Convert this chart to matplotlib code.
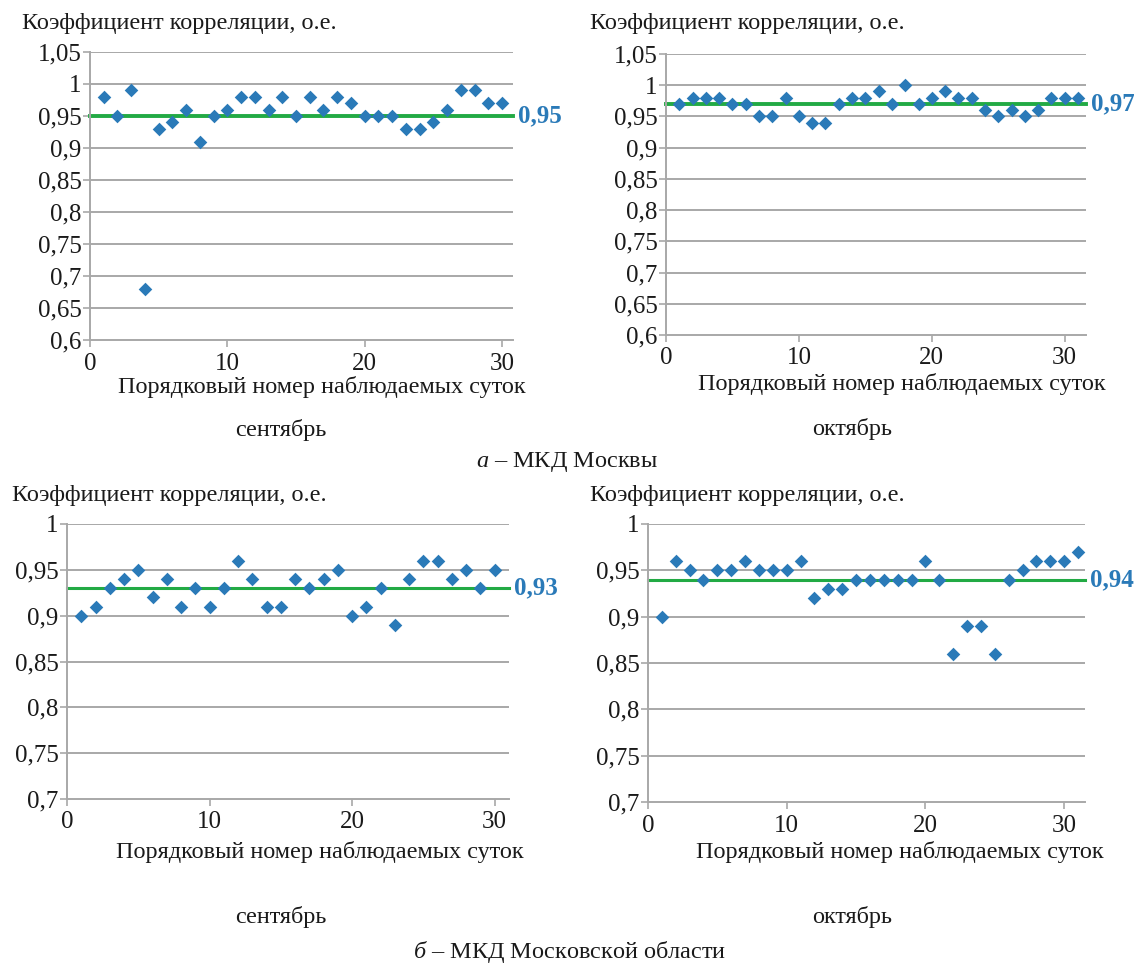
import numpy as np
import matplotlib
matplotlib.use('Agg')
import matplotlib.pyplot as plt

# Correlation coefficients by day
days_sep = list(range(1, 31))
days_oct = list(range(1, 32))

msk_sep = [0.98, 0.95, 0.99, 0.68, 0.93, 0.94, 0.96, 0.91, 0.95, 0.96,
           0.98, 0.98, 0.96, 0.98, 0.95, 0.98, 0.96, 0.98, 0.97, 0.95,
           0.95, 0.95, 0.93, 0.93, 0.94, 0.96, 0.99, 0.99, 0.97, 0.97]
msk_oct = [0.97, 0.98, 0.98, 0.98, 0.97, 0.97, 0.95, 0.95, 0.98, 0.95,
           0.94, 0.94, 0.97, 0.98, 0.98, 0.99, 0.97, 1.00, 0.97, 0.98,
           0.99, 0.98, 0.98, 0.96, 0.95, 0.96, 0.95, 0.96, 0.98, 0.98, 0.98]
obl_sep = [0.90, 0.91, 0.93, 0.94, 0.95, 0.92, 0.94, 0.91, 0.93, 0.91,
           0.93, 0.96, 0.94, 0.91, 0.91, 0.94, 0.93, 0.94, 0.95, 0.90,
           0.91, 0.93, 0.89, 0.94, 0.96, 0.96, 0.94, 0.95, 0.93, 0.95]
obl_oct = [0.90, 0.96, 0.95, 0.94, 0.95, 0.95, 0.96, 0.95, 0.95, 0.95,
           0.96, 0.92, 0.93, 0.93, 0.94, 0.94, 0.94, 0.94, 0.94, 0.96,
           0.94, 0.86, 0.89, 0.89, 0.86, 0.94, 0.95, 0.96, 0.96, 0.96, 0.97]

means = [0.95, 0.97, 0.93, 0.94]
mean_labels = ['0,95', '0,97', '0,93', '0,94']

ylabel_txt = 'Коэффициент корреляции, о.е.'
xlabel_txt = 'Порядковый номер наблюдаемых суток'
months = ['сентябрь', 'октябрь']

W, H = 1134, 968
plt.rcParams['font.family'] = 'serif'
plt.rcParams['font.serif'] = ['Liberation Serif', 'DejaVu Serif']
plt.rcParams['mathtext.fontset'] = 'custom'
plt.rcParams['mathtext.rm'] = 'Liberation Serif'
plt.rcParams['mathtext.it'] = 'Liberation Serif:italic'
fig = plt.figure(figsize=(W / 100, H / 100), dpi=100)

blue = '#2A7AB8'
green = '#22AA44'
grey = '#A8A8A8'
ink = '#1a1a1a'

def px(x, y):
    return x / W, 1 - y / H

def make_axes(x0, y0, x1, y1):
    return fig.add_axes([x0 / W, 1 - y1 / H, (x1 - x0) / W, (y1 - y0) / H])

def fmt(v):
    s = ('%.2f' % v).rstrip('0').rstrip('.')
    return s.replace('.', ',')

# (box, days, values, ylim, xmax, mean index, mean line width)
panels = [
    ((90, 52, 513, 340), days_sep, msk_sep, (0.6, 1.05), 30.8, 0, 2.8),
    ((666, 54, 1086, 335), days_oct, msk_oct, (0.6, 1.05), 31.6, 1, 2.8),
    ((67, 524, 509, 799), days_sep, obl_sep, (0.7, 1.0), 31.0, 2, 2.2),
    ((648, 524, 1085, 802), days_oct, obl_oct, (0.7, 1.0), 31.5, 3, 2.2),
]

for box, d, v, yl, xmax, k, lw in panels:
    ax = make_axes(*box)
    yt = np.arange(yl[0], yl[1] + 0.001, 0.05)
    for t in yt[1:]:
        ax.axhline(t, color=grey, lw=1.4, zorder=1)
    ax.plot([0, xmax], [means[k], means[k]], color=green, lw=lw, zorder=2, clip_on=False)
    ax.scatter(d, v, marker='D', s=48, color=blue, zorder=3, clip_on=False, linewidths=0)
    ax.set_xlim(0, xmax)
    ax.set_ylim(*yl)
    ax.tick_params(axis='both', colors=grey, labelcolor=ink, labelsize=18,
                   length=5, width=1.2, direction='out')
    ax.tick_params(axis='x', pad=4)
    ax.tick_params(axis='y', pad=1)
    ax.set_xticks([0, 10, 20, 30])
    ax.set_xticklabels(['0', '10', '20', '30'], fontfamily='Liberation Serif')
    ax.set_yticks(yt)
    ax.set_yticklabels([fmt(t) for t in yt], fontfamily='Liberation Serif')
    for s in ['top', 'right']:
        ax.spines[s].set_visible(False)
    for s in ['left', 'bottom']:
        ax.spines[s].set_color(grey)
        ax.spines[s].set_linewidth(1.4)
    ax.text(xmax * 1.012, means[k], mean_labels[k], color=blue, fontsize=18,
            fontweight='bold', va='center', ha='left', clip_on=False)
    ax.patch.set_visible(False)

# panel texts (pixel positions)
txt = dict(fontsize=17.5, color=ink)
fig.text(*px(22, 24), ylabel_txt, ha='left', va='center', **txt)
fig.text(*px(590, 24), ylabel_txt, ha='left', va='center', **txt)
fig.text(*px(12, 495), ylabel_txt, ha='left', va='center', **txt)
fig.text(*px(590, 495), ylabel_txt, ha='left', va='center', **txt)

fig.text(*px(322, 387), xlabel_txt, ha='center', va='center', **txt)
fig.text(*px(902, 384), xlabel_txt, ha='center', va='center', **txt)
fig.text(*px(320, 852), xlabel_txt, ha='center', va='center', **txt)
fig.text(*px(900, 852), xlabel_txt, ha='center', va='center', **txt)

fig.text(*px(281, 430), months[0], ha='center', va='center', **txt)
fig.text(*px(852, 429), months[1], ha='center', va='center', **txt)
fig.text(*px(281, 917), months[0], ha='center', va='center', **txt)
fig.text(*px(852, 917), months[1], ha='center', va='center', **txt)

fig.text(*px(567, 462), r'$\it{а}$ – МКД Москвы', ha='center', va='center', **txt)
fig.text(*px(570, 952), r'$\it{б}$ – МКД Московской области', ha='center',
         va='center', **txt)

fig.savefig('out.png', dpi=100)
